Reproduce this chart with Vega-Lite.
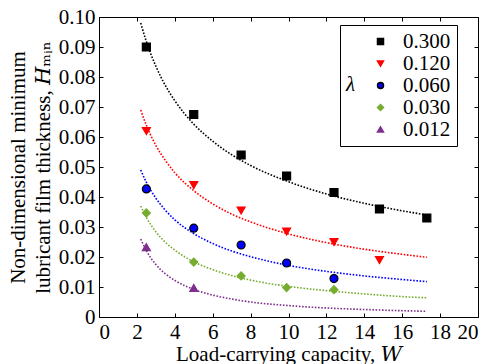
{
  "$schema": "https://vega.github.io/schema/vega-lite/v6.json",
  "width": 379,
  "height": 300,
  "autosize": "none",
  "padding": {"left": 99, "top": 17, "right": 12, "bottom": 47},
  "background": "white",
  "config": {
    "font": "'Liberation Serif', 'Times New Roman', 'DejaVu Serif', serif",
    "view": {"stroke": "black", "strokeWidth": 1},
    "axis": {"labelFont": "'Liberation Serif', 'Times New Roman', 'DejaVu Serif', serif", "titleFont": "'Liberation Serif', 'Times New Roman', 'DejaVu Serif', serif", "labelFontSize": 21, "titleFontSize": 21, "labelColor": "black", "titleColor": "black", "titleFontWeight": "normal", "domainColor": "black", "tickColor": "black", "grid": false},
    "legend": {"labelFont": "'Liberation Serif', 'Times New Roman', 'DejaVu Serif', serif", "titleFont": "'Liberation Serif', 'Times New Roman', 'DejaVu Serif', serif"}
  },
  "datasets": {
    "curves": [
      {"lambda": "0.300", "W": 2.2, "H": 0.098}, {"lambda": "0.300", "W": 2.5, "H": 0.0918}, {"lambda": "0.300", "W": 3, "H": 0.0836}, {"lambda": "0.300", "W": 3.5, "H": 0.0772}, {"lambda": "0.300", "W": 4, "H": 0.0721}, {"lambda": "0.300", "W": 5, "H": 0.0643}, {"lambda": "0.300", "W": 6, "H": 0.0586}, {"lambda": "0.300", "W": 7, "H": 0.0541}, {"lambda": "0.300", "W": 8, "H": 0.0505}, {"lambda": "0.300", "W": 10, "H": 0.0451}, {"lambda": "0.300", "W": 12, "H": 0.041}, {"lambda": "0.300", "W": 14, "H": 0.0379}, {"lambda": "0.300", "W": 16, "H": 0.0354}, {"lambda": "0.300", "W": 17.3, "H": 0.034},
      {"lambda": "0.120", "W": 2.2, "H": 0.069}, {"lambda": "0.120", "W": 2.5, "H": 0.0639}, {"lambda": "0.120", "W": 3, "H": 0.0572}, {"lambda": "0.120", "W": 3.5, "H": 0.0522}, {"lambda": "0.120", "W": 4, "H": 0.0481}, {"lambda": "0.120", "W": 5, "H": 0.0421}, {"lambda": "0.120", "W": 6, "H": 0.0377}, {"lambda": "0.120", "W": 7, "H": 0.0343}, {"lambda": "0.120", "W": 8, "H": 0.0317}, {"lambda": "0.120", "W": 10, "H": 0.0277}, {"lambda": "0.120", "W": 12, "H": 0.0248}, {"lambda": "0.120", "W": 14, "H": 0.0226}, {"lambda": "0.120", "W": 16, "H": 0.0209}, {"lambda": "0.120", "W": 17.3, "H": 0.0199},
      {"lambda": "0.060", "W": 2.2, "H": 0.049}, {"lambda": "0.060", "W": 2.5, "H": 0.0449}, {"lambda": "0.060", "W": 3, "H": 0.0396}, {"lambda": "0.060", "W": 3.5, "H": 0.0356}, {"lambda": "0.060", "W": 4, "H": 0.0324}, {"lambda": "0.060", "W": 5, "H": 0.0278}, {"lambda": "0.060", "W": 6, "H": 0.0245}, {"lambda": "0.060", "W": 7, "H": 0.022}, {"lambda": "0.060", "W": 8, "H": 0.0201}, {"lambda": "0.060", "W": 10, "H": 0.0172}, {"lambda": "0.060", "W": 12, "H": 0.0152}, {"lambda": "0.060", "W": 14, "H": 0.0137}, {"lambda": "0.060", "W": 16, "H": 0.0125}, {"lambda": "0.060", "W": 17.3, "H": 0.0118},
      {"lambda": "0.030", "W": 2.2, "H": 0.037}, {"lambda": "0.030", "W": 2.5, "H": 0.0332}, {"lambda": "0.030", "W": 3, "H": 0.0284}, {"lambda": "0.030", "W": 3.5, "H": 0.0249}, {"lambda": "0.030", "W": 4, "H": 0.0223}, {"lambda": "0.030", "W": 5, "H": 0.0184}, {"lambda": "0.030", "W": 6, "H": 0.0158}, {"lambda": "0.030", "W": 7, "H": 0.0138}, {"lambda": "0.030", "W": 8, "H": 0.0123}, {"lambda": "0.030", "W": 10, "H": 0.0102}, {"lambda": "0.030", "W": 12, "H": 0.0088}, {"lambda": "0.030", "W": 14, "H": 0.0077}, {"lambda": "0.030", "W": 16, "H": 0.0068}, {"lambda": "0.030", "W": 17.3, "H": 0.0064},
      {"lambda": "0.012", "W": 2.2, "H": 0.026}, {"lambda": "0.012", "W": 2.5, "H": 0.0221}, {"lambda": "0.012", "W": 3, "H": 0.0175}, {"lambda": "0.012", "W": 3.5, "H": 0.0144}, {"lambda": "0.012", "W": 4, "H": 0.0122}, {"lambda": "0.012", "W": 5, "H": 0.0092}, {"lambda": "0.012", "W": 6, "H": 0.0073}, {"lambda": "0.012", "W": 7, "H": 0.006}, {"lambda": "0.012", "W": 8, "H": 0.005}, {"lambda": "0.012", "W": 10, "H": 0.0038}, {"lambda": "0.012", "W": 12, "H": 0.003}, {"lambda": "0.012", "W": 14, "H": 0.0025}, {"lambda": "0.012", "W": 16, "H": 0.0021}, {"lambda": "0.012", "W": 17.3, "H": 0.0019}
    ],
    "points": [
      {"lambda": "0.300", "W": 2.5, "H": 0.09}, {"lambda": "0.300", "W": 5, "H": 0.0675}, {"lambda": "0.300", "W": 7.5, "H": 0.054}, {"lambda": "0.300", "W": 9.9, "H": 0.047}, {"lambda": "0.300", "W": 12.4, "H": 0.0415}, {"lambda": "0.300", "W": 14.8, "H": 0.036}, {"lambda": "0.300", "W": 17.3, "H": 0.033},
      {"lambda": "0.120", "W": 2.5, "H": 0.062}, {"lambda": "0.120", "W": 5, "H": 0.044}, {"lambda": "0.120", "W": 7.5, "H": 0.0355}, {"lambda": "0.120", "W": 9.9, "H": 0.0285}, {"lambda": "0.120", "W": 12.4, "H": 0.025}, {"lambda": "0.120", "W": 14.8, "H": 0.019},
      {"lambda": "0.060", "W": 2.5, "H": 0.0427}, {"lambda": "0.060", "W": 5, "H": 0.0296}, {"lambda": "0.060", "W": 7.5, "H": 0.024}, {"lambda": "0.060", "W": 9.9, "H": 0.018}, {"lambda": "0.060", "W": 12.4, "H": 0.0128},
      {"lambda": "0.030", "W": 2.5, "H": 0.0347}, {"lambda": "0.030", "W": 5, "H": 0.0183}, {"lambda": "0.030", "W": 7.5, "H": 0.0137}, {"lambda": "0.030", "W": 9.9, "H": 0.0098}, {"lambda": "0.030", "W": 12.4, "H": 0.0091},
      {"lambda": "0.012", "W": 2.5, "H": 0.0233}, {"lambda": "0.012", "W": 5, "H": 0.0097}
    ]
  },
  "layer": [
    {
      "data": {"name": "curves"},
      "mark": {"type": "line", "strokeDash": [1.6, 1.6], "strokeWidth": 1.6, "interpolate": "monotone"},
      "encoding": {
        "x": {"field": "W", "type": "quantitative", "scale": {"domain": [0, 20], "nice": false},
          "axis": {"orient": "bottom", "title": "Load-carrying capacity, 𝑊", "values": [0,2,4,6,8,10,12,14,16,18,20], "tickSize": -4, "labelPadding": 8, "titlePadding": 1, "domain": true}},
        "y": {"field": "H", "type": "quantitative", "scale": {"domain": [0, 0.1], "nice": false},
          "axis": {"orient": "left", "title": ["Non-dimensional minimum", "lubricant film thickness, 𝐻ₘᵢₙ"], "values": [0,0.01,0.02,0.03,0.04,0.05,0.06,0.07,0.08,0.09,0.1], "labelExpr": "datum.value == 0 ? '0' : format(datum.value, '.2f')", "tickSize": -4, "labelPadding": 8, "titlePadding": 5, "titleLineHeight": 25}},
        "color": {"field": "lambda", "type": "nominal", "legend": null,
          "scale": {"domain": ["0.300", "0.120", "0.060", "0.030", "0.012"], "range": ["#000000", "#ff0000", "#0000ff", "#77ac30", "#7e2f8e"]}},
        "detail": {"field": "lambda"}
      }
    },
    {
      "data": {"name": "points"},
      "mark": {"type": "point", "filled": true, "opacity": 1, "strokeWidth": 1.2},
      "encoding": {
        "x": {"field": "W", "type": "quantitative", "axis": {"orient": "top", "title": null, "labels": false, "values": [0,2,4,6,8,10,12,14,16,18,20], "tickSize": -4, "domain": false}},
        "y": {"field": "H", "type": "quantitative", "axis": {"orient": "right", "title": null, "labels": false, "values": [0,0.01,0.02,0.03,0.04,0.05,0.06,0.07,0.08,0.09,0.1], "tickSize": -4, "domain": false}},
        "shape": {"field": "lambda", "type": "nominal",
          "scale": {"domain": ["0.300", "0.120", "0.060", "0.030", "0.012"], "range": ["square", "triangle-down", "circle", "diamond", "triangle-up"]},
          "legend": {"title": "λ", "orient": "none", "legendX": 241, "legendY": 8, "titleOrient": "left", "titleAnchor": "middle", "titleBaseline": "middle", "titleFontStyle": "italic", "titleFontWeight": "normal", "titleFontSize": 21, "titleColor": "black", "titlePadding": 14, "labelFontSize": 21, "labelColor": "black", "strokeColor": "black", "padding": 6, "fillColor": "white", "symbolSize": 36, "rowPadding": 0, "labelOffset": 12}},
        "fill": {"field": "lambda", "type": "nominal",
          "scale": {"domain": ["0.300", "0.120", "0.060", "0.030", "0.012"], "range": ["#000000", "#ff0000", "#0000ff", "#77ac30", "#7e2f8e"]}},
        "stroke": {"field": "lambda", "type": "nominal",
          "scale": {"domain": ["0.300", "0.120", "0.060", "0.030", "0.012"], "range": ["#000000", "#ff0000", "#000000", "#77ac30", "#7e2f8e"]}},
        "size": {"value": 64}
      }
    }
  ],
  "resolve": {"scale": {"color": "independent"}, "axis": {"x": "independent", "y": "independent"}}
}
